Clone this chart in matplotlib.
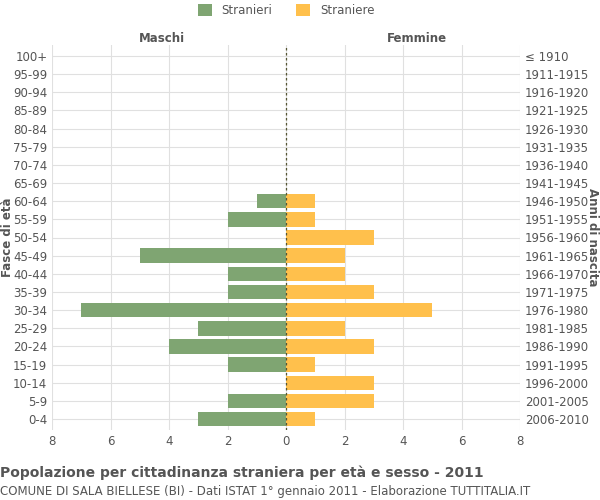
import matplotlib
matplotlib.use("Agg")
import matplotlib.pyplot as plt
import numpy as np

ages = ["0-4","5-9","10-14","15-19","20-24","25-29","30-34","35-39","40-44","45-49","50-54","55-59","60-64","65-69","70-74","75-79","80-84","85-89","90-94","95-99","100+"]
births = ["2006-2010","2001-2005","1996-2000","1991-1995","1986-1990","1981-1985","1976-1980","1971-1975","1966-1970","1961-1965","1956-1960","1951-1955","1946-1950","1941-1945","1936-1940","1931-1935","1926-1930","1921-1925","1916-1920","1911-1915","≤ 1910"]
males = [3,2,0,2,4,3,7,2,2,5,0,2,1,0,0,0,0,0,0,0,0]
females = [1,3,3,1,3,2,5,3,2,2,3,1,1,0,0,0,0,0,0,0,0]

green = "#7fa572"; yellow = "#ffc04c"
fig = plt.figure(figsize=(6,5), dpi=100)
ax = fig.add_axes([0.087, 0.14, 0.78, 0.77])
y = np.arange(len(ages))
ax.barh(y, [-m for m in males], height=0.8, color=green, label="Stranieri")
ax.barh(y, females, height=0.8, color=yellow, label="Straniere")
ax.set_ylim(-0.6, len(ages)-0.4)
ax.set_xlim(-8, 8)
ax.set_xticks(range(-8, 9, 2))
ax.set_xticklabels([str(abs(v)) for v in range(-8, 9, 2)])
ax.set_yticks(y)
ax.set_yticklabels(ages)
ax.tick_params(labelsize=8.5, colors="#555555", length=0)
ax.grid(True, color="#e0e0e0", linewidth=0.8)
ax.set_axisbelow(True)
for s in ax.spines.values():
    s.set_visible(False)
ax.axvline(0, color="#555533", linestyle=(0,(2,2)), linewidth=0.9)
ax2 = ax.twinx()
ax2.set_ylim(ax.get_ylim())
ax2.set_yticks(y)
ax2.set_yticklabels(births)
ax2.tick_params(labelsize=8.5, colors="#555555", length=0)
for s in ax2.spines.values():
    s.set_visible(False)
fig.text(0.012, 0.525, "Fasce di età", fontsize=8.5, fontweight="bold", color="#555555", rotation=90, ha="center", va="center")
fig.text(0.988, 0.525, "Anni di nascita", fontsize=8.5, fontweight="bold", color="#555555", rotation=270, ha="center", va="center")
fig.text(0.27, 0.91, "Maschi", ha="center", va="bottom", fontsize=8.5, fontweight="bold", color="#555555")
fig.text(0.695, 0.91, "Femmine", ha="center", va="bottom", fontsize=8.5, fontweight="bold", color="#555555")
ax.legend(loc="upper center", bbox_to_anchor=(0.5, 1.135), ncol=2, frameon=False, fontsize=8.5, handlelength=1.2, handleheight=1.2, labelcolor="#555555")
fig.text(0.0, 0.045, "Popolazione per cittadinanza straniera per età e sesso - 2011", fontsize=10, fontweight="bold", color="#555555")
fig.text(0.0, 0.01, "COMUNE DI SALA BIELLESE (BI) - Dati ISTAT 1° gennaio 2011 - Elaborazione TUTTITALIA.IT", fontsize=8.5, color="#555555")
fig.savefig("out.png", dpi=100)
